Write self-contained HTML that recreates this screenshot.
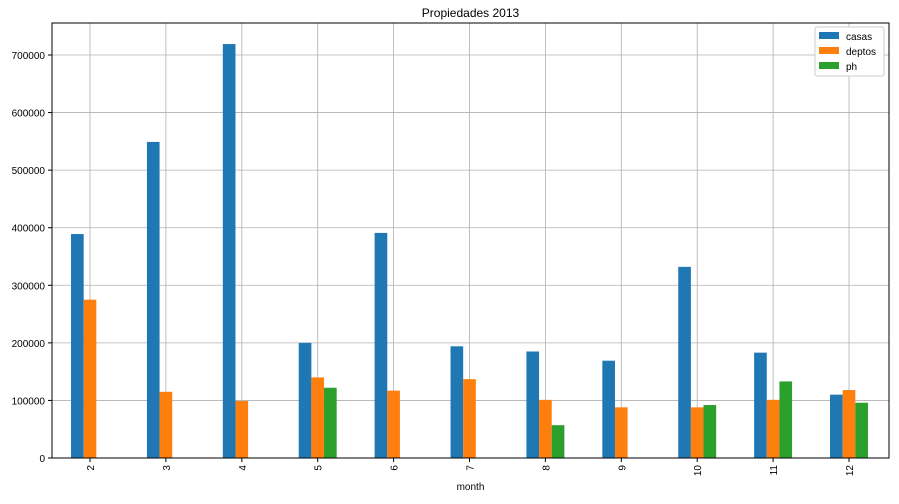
<!DOCTYPE html>
<html><head><meta charset="utf-8"><style>
body{margin:0;background:#fff;font-family:"Liberation Sans",sans-serif;}
svg text{font-family:"Liberation Sans",sans-serif;}
</style></head><body>
<svg id="c" width="899" height="499"></svg>
<script>
const categories=["2","3","4","5","6","7","8","9","10","11","12"];
const casas=[389000,549000,719000,200000,391000,194000,185000,169000,332000,183000,110000];
const deptos=[275000,115000,99000,140000,117000,137000,101000,88000,88000,101000,118000];
const ph=[null,null,null,122000,null,null,57000,null,92000,133000,96000];
const yTicks=[0,100000,200000,300000,400000,500000,600000,700000];
const seriesNames=["casas","deptos","ph"];
const colors=["#1f77b4","#ff7f0e","#2ca02c"];
const L=52,R=889,T=23,B=458;
const NS="http://www.w3.org/2000/svg";
const svg=document.getElementById('c');
function y(v){return B-v*(403/700000);}
function x(i){return 90+i*75.9;}
const bw=12.65;
function el(t,a,p){const e=document.createElementNS(NS,t);for(const k in a)e.setAttribute(k,a[k]);(p||svg).appendChild(e);return e;}
// grid
yTicks.forEach(v=>{
 const g=el('line',{x1:L,x2:R,y1:y(v),y2:y(v),stroke:'#b0b0b0','stroke-width':0.8});
 
 
 el('line',{x1:L-4,x2:L,y1:y(v),y2:y(v),stroke:'#000'});
 const t=el('text',{x:L-7,y:y(v)+4,'text-anchor':'end','font-size':10});
 t.textContent=v;
 
 
});
categories.forEach((c,i)=>{
 const g=el('line',{x1:x(i),x2:x(i),y1:T,y2:B,stroke:'#b0b0b0','stroke-width':0.8});
 
 
});
[casas,deptos,ph].forEach((s,k)=>{
 s.forEach((v,i)=>{
  if(v==null)return;
  const r=el('rect',{x:x(i)+(k-1)*bw-bw/2,y:y(v),width:bw,height:B-y(v),fill:colors[k]});
  
  
 });
});
categories.forEach((c,i)=>{
 el('line',{x1:x(i),x2:x(i),y1:B,y2:B+4,stroke:'#000'});
 const t=el('text',{x:0,y:0,'text-anchor':'end','font-size':10,transform:`translate(${x(i)+4},${B+7}) rotate(-90)`});
 t.textContent=c;
 
 
});
const fr=el('rect',{x:L,y:T,width:R-L,height:B-T,fill:'none',stroke:'#000','stroke-width':1});


const ti=el('text',{x:(L+R)/2,y:17,'text-anchor':'middle','font-size':12});
ti.textContent='Propiedades 2013';


const xt=el('text',{x:(L+R)/2,y:490,'text-anchor':'middle','font-size':10});
xt.textContent='month';


const lg=el('g',{});


el('rect',{x:815,y:27,width:69,height:49,fill:'#fff',stroke:'#ccc',rx:2},lg);
seriesNames.forEach((n,k)=>{
 const e=el('g',{},lg);
 
 
 el('rect',{x:819,y:32+k*15,width:20,height:7,fill:colors[k]},e);
 const t=el('text',{x:846,y:40+k*15,'font-size':10},e);
 t.textContent=n;
});
</script>
</body></html>
